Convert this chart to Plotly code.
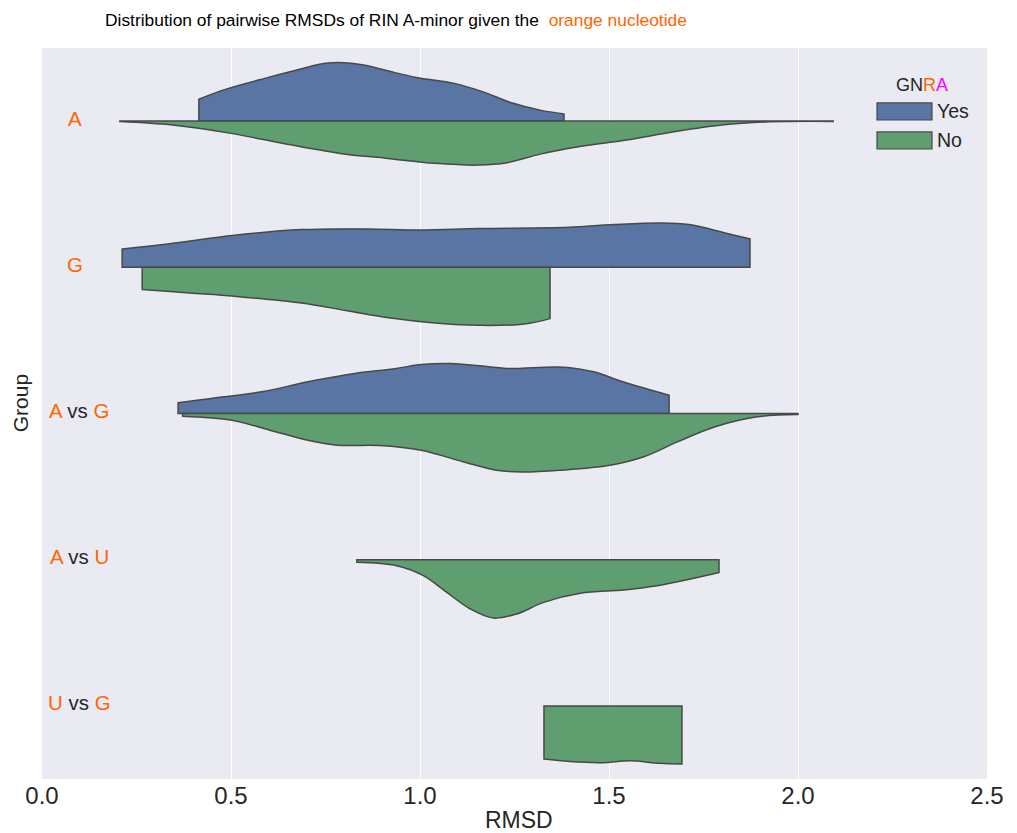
import plotly.graph_objects as go

# ---------------- data ----------------
groups = ["A", "G", "A vs G", "A vs U", "U vs G"]
hue_levels = ["Yes", "No"]

# RMSD grid / half-width (density scaled to category units)
a_yes_rmsd = [0.415, 0.485, 0.599, 0.687, 0.750, 0.800, 0.851, 0.914, 0.990, 1.091, 1.167, 1.242, 1.318, 1.381]
a_yes_dens = [0.150, 0.217, 0.299, 0.358, 0.395, 0.399, 0.383, 0.344, 0.299, 0.258, 0.200, 0.125, 0.075, 0.048]
a_no_rmsd = [0.206, 0.346, 0.500, 0.636, 0.788, 0.914, 1.040, 1.154, 1.230, 1.318, 1.419, 1.545, 1.672, 1.798, 1.924, 2.093]
a_no_dens = [0.003, 0.027, 0.084, 0.152, 0.221, 0.255, 0.289, 0.301, 0.285, 0.226, 0.176, 0.130, 0.073, 0.027, 0.005, 0.002]

g_yes_rmsd = [0.212, 0.333, 0.509, 0.686, 0.863, 1.000, 1.158, 1.394, 1.512, 1.642, 1.712, 1.807, 1.873]
g_yes_dens = [0.125, 0.159, 0.219, 0.258, 0.262, 0.255, 0.265, 0.274, 0.292, 0.303, 0.292, 0.235, 0.194]
g_no_rmsd = [0.265, 0.391, 0.509, 0.686, 0.804, 0.922, 1.040, 1.158, 1.276, 1.344]
g_no_dens = [0.152, 0.176, 0.198, 0.244, 0.296, 0.347, 0.381, 0.397, 0.388, 0.351]

ag_yes_rmsd = [0.360, 0.448, 0.581, 0.703, 0.814, 0.937, 1.003, 1.081, 1.159, 1.237, 1.314, 1.392, 1.459, 1.537, 1.659]
ag_yes_dens = [0.073, 0.103, 0.148, 0.217, 0.269, 0.308, 0.335, 0.342, 0.326, 0.308, 0.315, 0.315, 0.285, 0.217, 0.125]
ag_no_rmsd = [0.372, 0.503, 0.603, 0.703, 0.781, 0.892, 1.003, 1.114, 1.203, 1.270, 1.370, 1.503, 1.592, 1.681, 1.781, 1.892, 2.000]
ag_no_dens = [0.018, 0.046, 0.114, 0.183, 0.217, 0.219, 0.251, 0.330, 0.388, 0.400, 0.388, 0.354, 0.296, 0.194, 0.091, 0.023, 0.007]

au_no_rmsd = [0.833, 0.938, 1.009, 1.071, 1.133, 1.194, 1.256, 1.327, 1.424, 1.539, 1.627, 1.716, 1.791]
au_no_dens = [0.018, 0.041, 0.109, 0.224, 0.337, 0.399, 0.371, 0.292, 0.230, 0.207, 0.178, 0.132, 0.087]

ug_no_rmsd = [1.328, 1.396, 1.484, 1.555, 1.634, 1.693]
ug_no_dens = [0.364, 0.381, 0.388, 0.376, 0.392, 0.397]

x_ticks = [0.0, 0.5, 1.0, 1.5, 2.0, 2.5]
x_tick_text = ["0.0", "0.5", "1.0", "1.5", "2.0", "2.5"]

# ---------------- style ----------------
ORANGE = "#ff6600"
MAGENTA = "#ff00ff"
DARK = "#262626"
BLUE = "#5875a4"
GREEN = "#5f9e6e"
EDGE = "#484848"
FONT = "Liberation Sans, Arial, sans-serif"

halves = [
    ("A", "Yes", a_yes_rmsd, a_yes_dens),
    ("A", "No", a_no_rmsd, a_no_dens),
    ("G", "Yes", g_yes_rmsd, g_yes_dens),
    ("G", "No", g_no_rmsd, g_no_dens),
    ("A vs G", "Yes", ag_yes_rmsd, ag_yes_dens),
    ("A vs G", "No", ag_no_rmsd, ag_no_dens),
    ("A vs U", "No", au_no_rmsd, au_no_dens),
    ("U vs G", "No", ug_no_rmsd, ug_no_dens),
]


def half_path(xs, ds, center, sign):
    # open path, corners duplicated so the spline keeps them sharp
    px = [xs[0], xs[0], xs[0]]
    py = [center, center + sign * ds[0], center + sign * ds[0]]
    for x, d in zip(xs[1:-1], ds[1:-1]):
        px.append(x)
        py.append(center + sign * d)
    px += [xs[-1], xs[-1], xs[-1], xs[-1], xs[0], xs[0]]
    py += [center + sign * ds[-1], center + sign * ds[-1], center, center, center, center]
    return px, py


fig = go.Figure()
for grp, hue, xs, ds in halves:
    c = groups.index(grp)
    sign = -1 if hue == "Yes" else 1
    px, py = half_path(xs, ds, c, sign)
    fig.add_trace(go.Scatter(
        x=px, y=py, mode="lines", fill="toself",
        fillcolor=BLUE if hue == "Yes" else GREEN,
        line=dict(color=EDGE, width=1.5, shape="spline", smoothing=1, simplify=False),
        showlegend=False, hoverinfo="skip",
    ))


def colored_label(lbl):
    parts = lbl.split(" vs ")
    parts = [f"<span style='color:{ORANGE}'>{p}</span>" for p in parts]
    return f" <span style='color:{DARK}'>vs</span> ".join(parts)


annotations = []
for i, g in enumerate(groups):
    annotations.append(dict(
        x=0.0395, xref="paper", y=i, yref="y", text=colored_label(g),
        showarrow=False, xanchor="center", yanchor="middle",
        xshift=-4 if " vs " not in g else 0, yshift=3,
        font=dict(family=FONT, size=20.5, color=DARK),
    ))

# title
annotations.append(dict(
    x=0.0645, xref="paper", y=1.0385, yref="paper",
    text=f"Distribution of pairwise RMSDs of RIN A-minor given the  <span style='color:{ORANGE}'>orange nucleotide</span>",
    showarrow=False, xanchor="left", yanchor="middle",
    font=dict(family=FONT, size=17.4, color="black"),
))

# axis titles
annotations.append(dict(
    x=0.505, xref="paper", y=-0.0565, yref="paper", text="RMSD",
    showarrow=False, xanchor="center", yanchor="middle",
    font=dict(family=FONT, size=23, color=DARK),
))
annotations.append(dict(
    x=-0.0233, xref="paper", y=0.514, yref="paper", text="Group", textangle=-90,
    showarrow=False, xanchor="center", yanchor="middle",
    font=dict(family=FONT, size=21, color=DARK),
))

# legend (manual, seaborn-like)
annotations.append(dict(
    x=0.931, xref="paper", y=0.9494, yref="paper",
    text=f"GN<span style='color:{ORANGE}'>R</span><span style='color:{MAGENTA}'>A</span>",
    showarrow=False, xanchor="center", yanchor="middle",
    font=dict(family=FONT, size=18, color=DARK),
))
shapes = []
leg_y = [0.9132, 0.8735]
for lvl, yc, col in zip(hue_levels, leg_y, [BLUE, GREEN]):
    shapes.append(dict(type="rect", xref="paper", yref="paper",
                       x0=0.8836, x1=0.9418, y0=yc - 0.0117, y1=yc + 0.0117,
                       fillcolor=col, line=dict(color=EDGE, width=1.2)))
    annotations.append(dict(
        x=0.9455, xref="paper", y=yc, yref="paper", text=lvl,
        showarrow=False, xanchor="left", yanchor="middle",
        font=dict(family=FONT, size=19.5, color=DARK),
    ))

fig.update_layout(
    width=1017, height=833,
    margin=dict(l=34, r=38, t=40, b=62, autoexpand=False),
    paper_bgcolor="white",
    plot_bgcolor="#eaeaf2",
    font=dict(family=FONT, color=DARK),
    showlegend=False,
    annotations=annotations,
    shapes=shapes,
    xaxis=dict(
        range=[0, 2.5], tickvals=x_ticks, ticktext=x_tick_text,
        showgrid=True, gridcolor="white", gridwidth=1.2, zeroline=False,
        showline=False, ticks="", tickfont=dict(size=24, color=DARK, family=FONT),
        automargin=False, layer="below traces",
    ),
    yaxis=dict(
        range=[4.5, -0.5], showgrid=False, zeroline=False, showticklabels=False,
        ticks="", showline=False, automargin=False,
    ),
)

fig.write_html("out.html")
